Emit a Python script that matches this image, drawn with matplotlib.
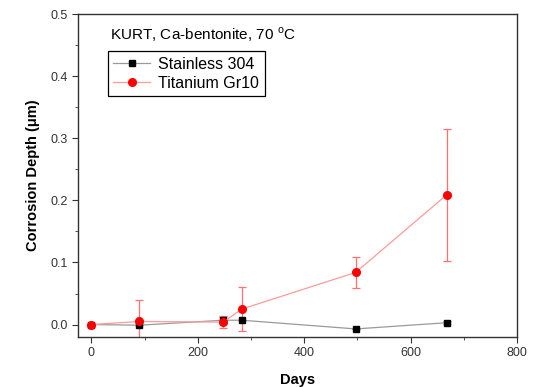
import matplotlib
matplotlib.use('Agg')
import matplotlib.pyplot as plt
from matplotlib.lines import Line2D
from matplotlib.ticker import MultipleLocator

plt.rcParams['font.family'] = ['Liberation Sans', 'DejaVu Sans']

# Data
days = [0, 90, 248, 283, 497, 668]
stainless = [0.0, -0.001, 0.007, 0.007, -0.007, 0.003]
stainless_err = [0.0, 0.0, 0.006, 0.0, 0.0, 0.002]
titanium = [0.0, 0.005, 0.004, 0.025, 0.084, 0.209]
titanium_err = [0.0, 0.035, 0.010, 0.035, 0.025, 0.106]

fig = plt.figure(figsize=(5.36, 3.87), dpi=100)
ax = fig.add_axes([0.1455, 0.1292, 0.819, 0.8346])

ax.errorbar(days, stainless, yerr=stainless_err, color='#9a9a9a', lw=0.9,
            marker='s', ms=4.5, mfc='black', mec='black', ecolor='#9a9a9a',
            elinewidth=0.9, capsize=3, capthick=0.9)
ax.errorbar(days, titanium, yerr=titanium_err, color='#ff9a9a', lw=0.9,
            marker='o', ms=5.5, mfc='red', mec='red', ecolor='#ff7070',
            elinewidth=0.9, capsize=3, capthick=0.9)

ax.set_xlim(-25, 800)
ax.set_ylim(-0.02, 0.5)
ax.xaxis.set_major_locator(MultipleLocator(200))
ax.xaxis.set_minor_locator(MultipleLocator(100))
ax.yaxis.set_major_locator(MultipleLocator(0.1))
ax.yaxis.set_minor_locator(MultipleLocator(0.05))
ax.tick_params(which='both', direction='out', top=False, right=False,
               labelsize=9, colors='#333333', labelcolor='#333333')
ax.tick_params(which='major', length=4)
ax.tick_params(which='minor', length=2.5)
for s in ax.spines.values():
    s.set_color('#333333')
    s.set_linewidth(1.0)

ax.set_xlabel('Days', fontsize=10.5, fontweight='bold', labelpad=10)
ax.set_ylabel('Corrosion Depth (\u03bcm)', fontsize=10.5, fontweight='bold', labelpad=7)

ax.text(0.073, 0.935, 'KURT, Ca-bentonite, 70 $^{\\mathregular{o}}$C',
        transform=ax.transAxes, fontsize=11, va='center', ha='left')
handles = [
    Line2D([], [], color='#9a9a9a', lw=0.9, marker='s', ms=4.5, mfc='black', mec='black'),
    Line2D([], [], color='#ff9a9a', lw=0.9, marker='o', ms=5.5, mfc='red', mec='red'),
]
leg = ax.legend(handles, ['Stainless 304', 'Titanium Gr10'], loc='upper left',
                bbox_to_anchor=(0.068, 0.885), fontsize=11.5,
                frameon=True, fancybox=False, edgecolor='black', framealpha=1,
                borderpad=0.35, handlelength=2.3, handletextpad=0.5,
                labelspacing=0.25, borderaxespad=0)
leg.get_frame().set_linewidth(0.9)

fig.savefig('out.png', dpi=100)
